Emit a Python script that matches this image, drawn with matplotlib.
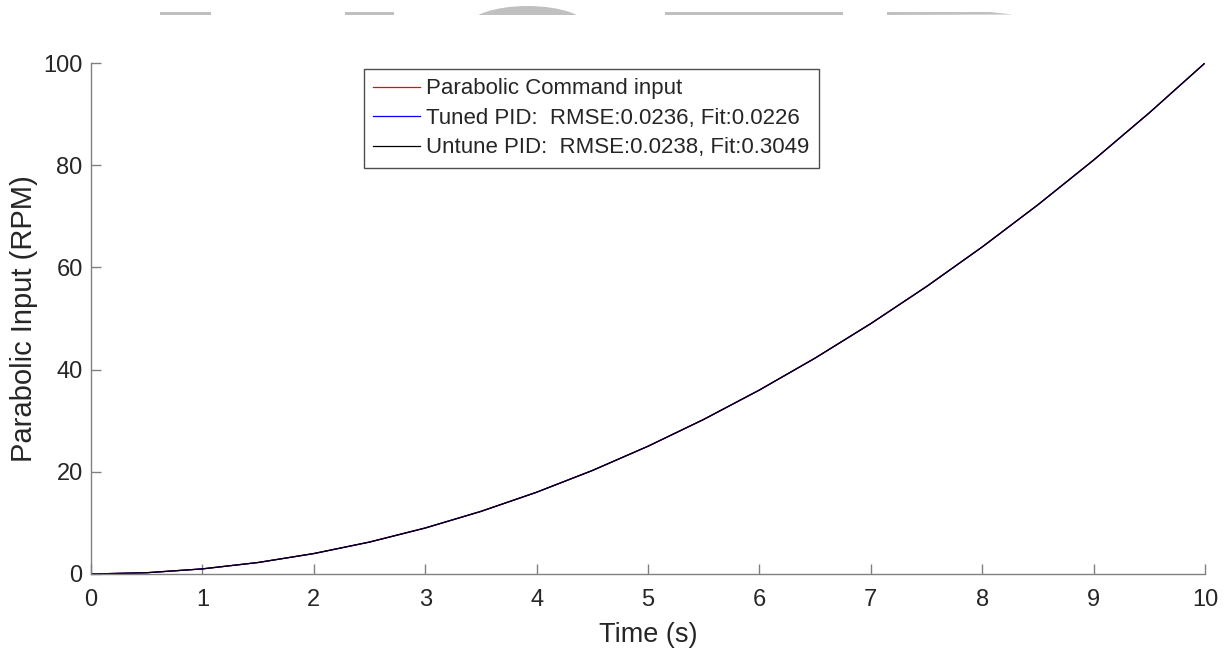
import matplotlib
matplotlib.use('Agg')
import matplotlib.pyplot as plt
from matplotlib.patches import Rectangle, Ellipse, Polygon

plt.rcParams['font.family'] = ['Liberation Sans', 'DejaVu Sans']

# time (s) and readings of the curves (RPM)
time_s = [0, 0.5, 1, 1.5, 2, 2.5, 3, 3.5, 4, 4.5, 5, 5.5, 6, 6.5, 7, 7.5, 8, 8.5, 9, 9.5, 10]
command_rpm = [0, 0.25, 1, 2.25, 4, 6.25, 9, 12.25, 16, 20.25, 25, 30.25, 36, 42.25,
               49, 56.25, 64, 72.25, 81, 90.25, 100]
tuned_rpm = [0, 0.25, 1, 2.25, 4, 6.25, 9, 12.25, 16, 20.25, 25, 30.25, 36, 42.25,
             49, 56.25, 64, 72.25, 81, 90.25, 100]
untuned_rpm = [0, 0.25, 1, 2.25, 4, 6.25, 9, 12.25, 16, 20.25, 25, 30.25, 36, 42.25,
               49, 56.25, 64, 72.25, 81, 90.25, 100]

labels = ['Parabolic Command input',
          'Tuned PID:  RMSE:0.0236, Fit:0.0226',
          'Untune PID:  RMSE:0.0238, Fit:0.3049']
x_ticks = list(range(0, 11))
y_ticks = [0, 20, 40, 60, 80, 100]

W, H = 1231, 654
fig = plt.figure(figsize=(W / 100, H / 100), dpi=100)
ax = fig.add_axes([91 / W, 1 - 574 / H, (1205 - 91) / W, (574 - 63) / H])

ax.plot(time_s, command_rpm, color='red', lw=0.9, label=labels[0])
ax.plot(time_s, tuned_rpm, color='blue', lw=0.9, label=labels[1])
ax.plot(time_s, untuned_rpm, color='black', lw=0.9, label=labels[2])

ax.set_xlim(0, 10)
ax.set_ylim(0, 100)
ax.set_xticks(x_ticks)
ax.set_yticks(y_ticks)
for s in ['top', 'right']:
    ax.spines[s].set_visible(False)
for s in ['left', 'bottom']:
    ax.spines[s].set_color('#808080')
    ax.spines[s].set_linewidth(1.0)
ax.tick_params(direction='in', length=7, width=1, color='#808080',
               labelsize=17, labelcolor='#262626')
ax.tick_params(axis='x', pad=11)
ax.tick_params(axis='y', pad=6)
ax.set_xlabel('Time (s)', fontsize=19.5, color='#262626', labelpad=8)
ax.set_ylabel('Parabolic Input (RPM)', fontsize=21, color='#262626', labelpad=4)

leg = ax.legend(loc='upper left', bbox_to_anchor=(0.245, 0.988), borderaxespad=0,
                fancybox=False, framealpha=1, edgecolor='#4d4d4d', fontsize=16,
                handlelength=2.1, handletextpad=0.28, labelspacing=0.38,
                borderpad=0.42)
leg.get_frame().set_linewidth(1.0)
for t in leg.get_texts():
    t.set_color('#262626')

# grey page artefacts along the top edge
grey = '#c0c0c0'
def fx(px):
    return px / W
def fy(py):
    return 1 - py / H
for x0, x1 in [(160, 211), (345, 394), (665, 843)]:
    fig.patches.append(Rectangle((fx(x0), fy(15)), fx(x1) - fx(x0), fy(12) - fy(15),
                                 transform=fig.transFigure, color=grey, lw=0))
fig.patches.append(Polygon([(fx(887), fy(12)), (fx(990), fy(12)), (fx(1013), fy(14.5)),
                            (fx(887), fy(15))], closed=True, transform=fig.transFigure,
                           color=grey, lw=0))
arc = Ellipse((fx(527.5), fy(28)), fx(122), fy(0) - fy(44),
              transform=fig.transFigure, color=grey, lw=0)
arc.set_clip_path(Rectangle((fx(460), fy(15)), fx(140), fy(0) - fy(15),
                            transform=fig.transFigure))
fig.patches.append(arc)

fig.savefig('out.png', dpi=100)
